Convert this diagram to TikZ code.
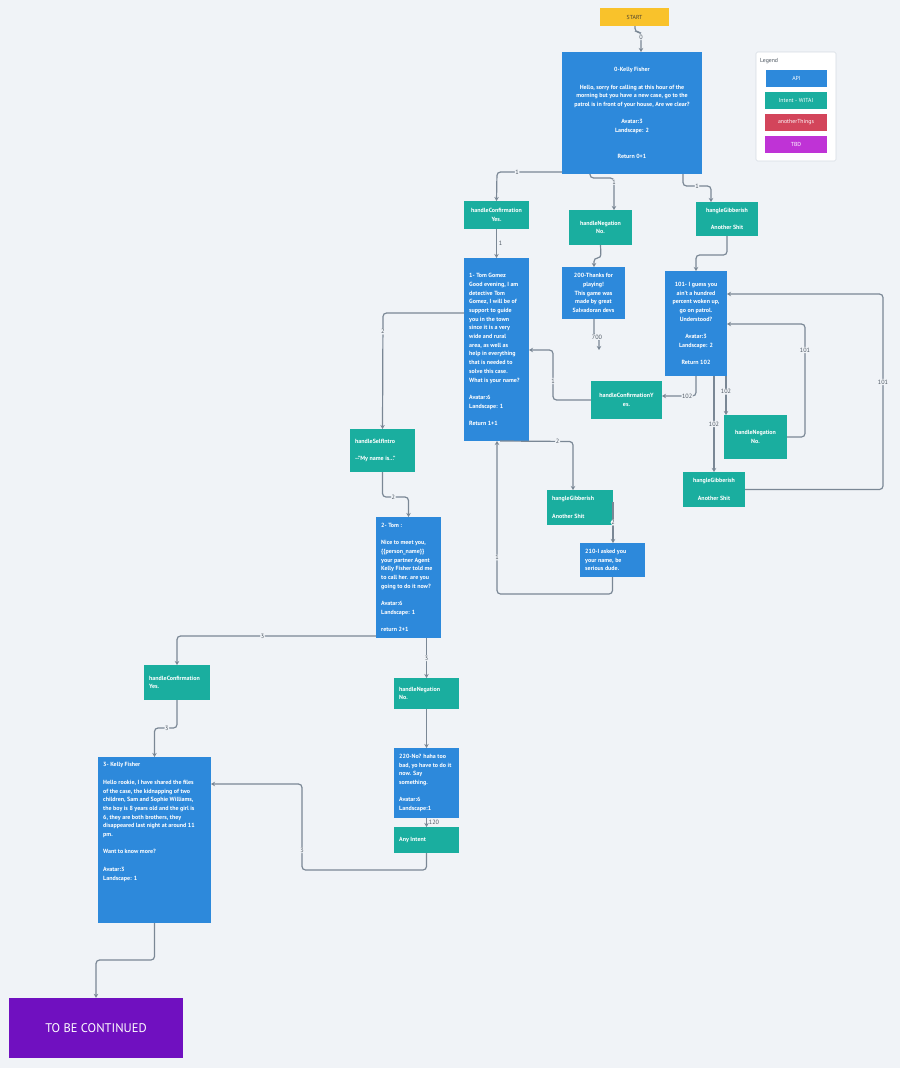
\documentclass[tikz,border=0pt]{standalone}
\usepackage{fontspec}
\setmainfont{PT Sans}
\usetikzlibrary{arrows.meta,calc}
\definecolor{bg}{HTML}{F0F3F7}
\definecolor{apiblue}{HTML}{2D89DB}
\definecolor{intentc}{HTML}{1AAE9F}
\definecolor{otherc}{HTML}{D3455B}
\definecolor{tbdc}{HTML}{BF33D6}
\definecolor{tbcc}{HTML}{7010C0}
\definecolor{startc}{HTML}{F9C22B}
\definecolor{starttext}{HTML}{4A4232}
\definecolor{linec}{HTML}{7A8795}
\definecolor{labc}{HTML}{4E5863}
\definecolor{legborder}{HTML}{D5DCE3}
\definecolor{legtext}{HTML}{4A545E}
\newcommand\bxfont{\fontsize{6}{8.7}\selectfont\bfseries}
\newcommand\lbfont{\fontsize{5.8}{7}\selectfont}
\newcommand\cnfont{\fontsize{6.2}{7}\selectfont}
\tikzset{
  api/.style={fill=apiblue, inner sep=0pt, outer sep=0pt, text=white, font=\bxfont},
  intent/.style={fill=intentc, inner sep=0pt, outer sep=0pt, text=white, font=\bxfont},
  txtL/.style={inner sep=0pt, text=white, font=\bxfont, align=left, anchor=west},
  conn/.style={draw=linec, line width=1.2pt, rounded corners=3.5pt, -{Stealth[length=4pt,width=4.5pt]}},
  lab/.style={fill=bg, inner sep=0.8pt, text=labc, font=\cnfont},
}
\begin{document}
\begin{tikzpicture}[x=1pt,y=-1pt]
\useasboundingbox (0,0) rectangle (900,1068);
\fill[bg] (0,0) rectangle (900,1068);

% ---- nodes ----
\node[fill=startc, inner sep=0pt, minimum width=69, minimum height=18, text=starttext, font=\lbfont] (start) at (634.5,17) {START};

\node[api, minimum width=140, minimum height=122, align=center] (b0) at (632,113)
 {0-Kelly Fisher\\[8.7pt]Hello, sorry for calling at this hour of the\\morning but you have a new case, go to the\\patrol is in front of your house, Are we clear?\\[8.7pt]Avatar:3\\Landscape: 2\\[17.4pt]Return 0+1};

% legend
\node[fill=white, draw=legborder, line width=0.6pt, rounded corners=1.5pt, minimum width=80, minimum height=109, inner sep=0pt] (leg) at (796,106.5) {};
\node[anchor=west, inner sep=0pt, font=\lbfont, text=legtext] (legt) at (760,61) {Legend};
\node[api, font=\lbfont, minimum width=61, minimum height=17] (lapi) at (796.5,78.5) {API};
\node[intent, font=\lbfont, minimum width=62, minimum height=17] (lint) at (796,100.5) {Intent - WITAI};
\node[fill=otherc, inner sep=0pt, text=white, font=\lbfont, minimum width=62, minimum height=17] (loth) at (796,122.5) {anotherThings};
\node[fill=tbdc, inner sep=0pt, text=white, font=\lbfont, minimum width=62, minimum height=17] (ltbd) at (796,144.5) {TBD};

\node[intent, minimum width=65, minimum height=28, align=center] (hc1) at (496.5,215) {handleConfirmation\\Yes.};
\node[intent, minimum width=63, minimum height=35, align=center] (hn1) at (600.5,227.5) {handleNegation\\No.};
\node[intent, minimum width=62, minimum height=34, align=center] (hg1) at (727,219) {hangleGibberish\\[8.7pt]Another Shit};

\node[api, minimum width=65, minimum height=183] (b1) at (496.5,349.5) {};
\node[txtL] (b1t) at ($(b1.west)+(5,0)$) {1- Tom Gomez\\Good evening, I am\\detective Tom\\Gomez, I will be of\\support to guide\\you in the town\\since it is a very\\wide and rural\\area, as well as\\help in everything\\that is needed to\\solve this case.\\What is your name?\\[8.7pt]Avatar:6\\Landscape: 1\\[8.7pt]Return 1+1};

\node[api, minimum width=63, minimum height=52, align=center] (b200) at (593.5,293) {200-Thanks for\\playing!\\This game was\\made by great\\Salvadoran devs};

\node[api, minimum width=62, minimum height=105, align=center] (b101) at (696,323.5) {101- I guess you\\ain't a hundred\\percent woken up,\\go on patrol.\\Understood?\\[8.7pt]Avatar:3\\Landscape: 2\\[8.7pt]Return 102};

\node[intent, minimum width=71, minimum height=38, align=center] (hcY) at (626.5,400) {handleConfirmationY\\es.};
\node[intent, minimum width=63, minimum height=44, align=center] (hn2) at (755.5,437) {handleNegation\\No.};
\node[intent, minimum width=62, minimum height=35, align=center] (hg2) at (714,489.5) {hangleGibberish\\[8.7pt]Another Shit};

\node[intent, minimum width=65, minimum height=43] (hsi) at (382.5,450.5) {};
\node[txtL] (hsit) at ($(hsi.west)+(5,0)$) {handleSelfIntro\\[8.7pt]{-}{-}"My name is..."};

\node[intent, minimum width=66, minimum height=35] (hg3) at (580,507.5) {};
\node[txtL] (hg3t) at ($(hg3.west)+(5,0)$) {hangleGibberish\\[8.7pt]Another Shit};

\node[api, minimum width=65, minimum height=34] (b210) at (612.5,560) {};
\node[txtL] (b210t) at ($(b210.west)+(5,0)$) {210-I asked you\\your name, be\\serious dude.};

\node[api, minimum width=65, minimum height=121] (b2) at (408.5,577.5) {};
\node[txtL] (b2t) at ($(b2.west)+(5,0)$) {2- Tom :\\[8.7pt]Nice to meet you,\\\{\{person\_name\}\}\\your partner Agent\\Kelly Fisher told me\\to call her. are you\\going to do it now?\\[8.7pt]Avatar:6\\Landscape: 1\\[8.7pt]return 2+1};

\node[intent, minimum width=66, minimum height=35] (hc3) at (177,682.5) {};
\node[txtL] (hc3t) at ($(hc3.west)+(5,0)$) {handleConfirmation\\Yes.};

\node[intent, minimum width=65, minimum height=31] (hn3) at (426.5,693.5) {};
\node[txtL] (hn3t) at ($(hn3.west)+(5,0)$) {handleNegation\\No.};

\node[api, minimum width=65, minimum height=70] (b220) at (426.5,783) {};
\node[txtL] (b220t) at ($(b220.west)+(5,0)$) {220-No? haha too\\bad, yo have to do it\\now. Say\\something.\\[8.7pt]Avatar:6\\Landscape:1};

\node[intent, minimum width=65, minimum height=26] (any) at (426.5,840) {};
\node[txtL] (anyt) at ($(any.west)+(5,0)$) {Any Intent};

\node[api, minimum width=113, minimum height=166] (b3) at (154.5,840) {};
\node[txtL, anchor=north west] (b3t) at (103,762.5) {3- Kelly Fisher\\[8.7pt]Hello rookie, I have shared the files\\of the case, the kidnapping of two\\children, Sam and Sophie Williams,\\the boy is 8 years old and the girl is\\6, they are both brothers, they\\disappeared last night at around 11\\pm.\\[8.7pt]Want to know more?\\[8.7pt]Avatar:3\\Landscape: 1};

\node[fill=tbcc, inner sep=0pt, minimum width=174, minimum height=60, text=white, font=\fontsize{12.5}{14}\selectfont] (tbc) at (96,1028) {TO BE CONTINUED};

% ---- connectors ----
\draw[conn] (635,0 |- start.south) -- (635,32) -- (641,32) -- node[lab,pos=0.25]{0} (641,0 |- b0.north);
\draw[conn] (b0.west |- 0,172) -- node[lab,pos=0.69]{1} (497,172) -- (hc1.north);
\draw[conn] (590,0 |- b0.south) -- (590,178) -- (614,178) -- node[lab,pos=0.12]{1} (614,0 |- hn1.north);
\draw[conn] (683,0 |- b0.south) -- (683,186) -- node[lab,pos=0.5]{1} (711,186) -- (711,0 |- hg1.north);
\draw[conn] (hc1.south) -- node[lab,right,pos=0.5,fill=none,xshift=1pt]{1} (b1.north);
\draw[conn] (hn1.south) -- (601,258) -- (594,258) -- (594,0 |- b200.north);
\draw[conn] (hg1.south) -- (727,255) -- (696,255) -- (b101.north);
\coordinate (end700) at (599,350);
\draw[conn] (594,0 |- b200.south) -- (594,337) -- (599,337) -- (end700);
\node[lab] (l700) at (597,337) {700};
\draw[conn] (696,0 |- b101.south) -- (696,396) -- node[lab,pos=0.26]{102} (hcY.east |- 0,396);
\draw[conn] (714,0 |- b101.south) -- node[lab,pos=0.5]{102} (hg2.north);
\draw[conn] (726,0 |- b101.south) -- node[lab,pos=0.4]{102} (726,0 |- hn2.north);
\draw[conn] (hn2.east) -- (805,437) -- node[lab,pos=0.77]{101} (805,324) -- (b101.east |- 0,324);
\draw[conn] (hg2.east) -- (883,489.5) -- node[lab,pos=0.55]{101} (883,294) -- (b101.east |- 0,294);
\draw[conn] (hcY.west) -- (553,400) -- node[lab,pos=0.38]{1} (553,350) -- (b1.east |- 0,350);
\draw[conn] (b1.west |- 0,313) -- (383,313) -- node[lab,pos=0.16]{2} (hsi.north);
\draw[conn] (500,0 |- b1.south) -- node[lab,pos=0.79]{2} (573,441.5) -- (573,0 |- hg3.north);
\draw[conn] ($(hg3.east)+(0,-5.5)$) -- node[lab,pos=0.5]{2} (b210.north -| hg3.east);
\draw[conn] (b210.south) -- (612.5,594) -- (497,594) -- node[lab,pos=0.24]{1} (497,0 |- b1.south);
\draw[conn] (hsi.south) -- (382.5,497) -- node[lab,pos=0.42]{2} (408.5,497) -- (b2.north);
\draw[conn] (b2.west |- 0,636) -- node[lab,pos=0.57]{3} (177,636) -- (hc3.north);
\draw[conn] (426.5,0 |- b2.south) -- node[lab,pos=0.5]{3} (hn3.north);
\draw[conn] (hc3.south) -- (177,728) -- node[lab,pos=0.45]{3} (154.5,728) -- (b3.north);
\draw[conn] (hn3.south) -- (b220.north);
\draw[conn] (b220.south) -- node[lab,right,fill=none,xshift=1pt,pos=0.5]{120} (any.north);
\draw[conn] (any.south) -- (426.5,870) -- (302,870) -- node[lab,pos=0.23]{3} (302,784) -- (b3.east |- 0,784);
\draw[conn] (b3.south) -- (154.5,960) -- (96,960) -- (tbc.north);
\end{tikzpicture}
\end{document}
